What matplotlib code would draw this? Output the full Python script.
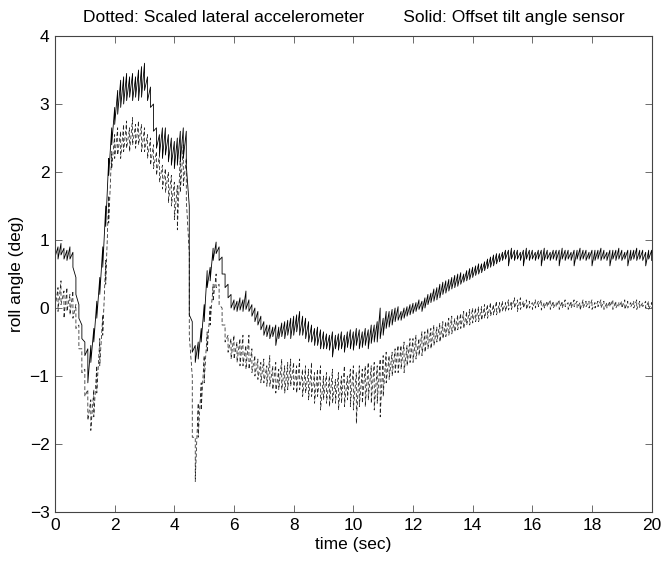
import numpy as np
import matplotlib
matplotlib.use("Agg")
import matplotlib.pyplot as plt

# knot times (0.1 s spacing)
time_sec = [round(0.1 * i, 1) for i in range(201)]

tilt_15_20_hi = [0.82,0.85,0.85,0.88,0.85,0.85,0.82,0.85,0.88,0.85, 0.85,0.82,0.85,0.85,0.88,0.85,0.82,0.85,0.85,0.85,
                 0.88,0.85,0.85,0.82,0.85,0.85,0.88,0.85,0.85,0.82, 0.85,0.85,0.85,0.88,0.85,0.82,0.85,0.85,0.85,0.88,
                 0.85,0.82,0.85,0.85,0.85,0.88,0.85,0.85,0.82,0.85, 0.85]
tilt_15_20_lo = [0.70,0.72,0.62,0.72,0.70,0.72,0.70,0.62,0.72,0.70, 0.72,0.70,0.72,0.62,0.70,0.72,0.70,0.72,0.70,0.62,
                 0.72,0.70,0.72,0.70,0.62,0.72,0.70,0.72,0.70,0.72, 0.62,0.70,0.72,0.70,0.72,0.70,0.62,0.72,0.70,0.72,
                 0.70,0.72,0.62,0.70,0.72,0.70,0.72,0.70,0.62,0.72, 0.70]

# Solid: offset tilt angle sensor (upper / lower envelope of the jitter)
tilt_hi = [
    0.93,0.90,0.95,0.88,0.85,0.90,0.82,0.45,0.05,-0.25,
    -0.50,-0.60,-0.55,-0.30,0.10,0.45,0.90,1.50,2.20,2.65,
    2.95,3.20,3.35,3.40,3.45,3.40,3.45,3.40,3.50,3.55,
    3.60,3.40,3.25,3.00,2.65,2.55,2.65,2.65,2.55,2.50,
    2.45,2.50,2.60,2.65,2.60,1.50,-0.20,-0.55,-0.50,-0.30,
    0.05,0.55,0.60,0.88,0.97,0.90,0.75,0.50,0.35,0.20,
    0.12,0.10,0.15,0.12,0.25,0.12,0.05,0.00,-0.05,-0.12,
    -0.20,-0.25,-0.25,-0.28,-0.25,-0.28,-0.22,-0.20,-0.18,-0.15,
    -0.12,-0.10,-0.05,-0.12,-0.15,-0.20,-0.25,-0.30,-0.28,-0.32,
    -0.35,-0.38,-0.40,-0.35,-0.40,-0.38,-0.35,-0.40,-0.35,-0.32,
    -0.35,-0.30,-0.32,-0.35,-0.30,-0.32,-0.25,-0.25,-0.20,0.00,
    -0.15,-0.05,-0.05,-0.02,0.00,0.02,-0.05,0.00,0.02,0.05,
    0.07,0.08,0.12,0.10,0.15,0.20,0.22,0.28,0.30,0.35,
    0.38,0.40,0.42,0.45,0.48,0.50,0.52,0.50,0.55,0.58,
    0.60,0.62,0.65,0.65,0.68,0.72,0.75,0.78,0.80,0.80,
] + tilt_15_20_hi
tilt_lo = [
    0.75,0.72,0.78,0.72,0.70,0.72,0.60,0.20,-0.15,-0.45,
    -0.70,-1.10,-0.80,-0.50,-0.15,0.20,0.60,1.20,1.95,2.40,
    2.70,2.85,2.95,3.00,3.05,3.10,3.05,3.10,3.05,3.10,
    3.20,3.05,2.95,2.60,2.35,2.25,2.20,2.25,2.15,2.10,
    2.05,2.10,2.15,2.20,2.10,-0.10,-0.65,-0.80,-0.75,-0.50,
    -0.20,0.30,0.40,0.70,0.80,0.70,0.50,0.30,0.15,0.00,
    -0.03,-0.05,-0.03,-0.05,-0.02,-0.05,-0.12,-0.20,-0.25,-0.32,
    -0.40,-0.42,-0.45,-0.42,-0.55,-0.45,-0.42,-0.45,-0.40,-0.45,
    -0.40,-0.35,-0.40,-0.40,-0.45,-0.50,-0.50,-0.55,-0.55,-0.60,
    -0.60,-0.60,-0.62,-0.72,-0.60,-0.62,-0.60,-0.65,-0.58,-0.60,
    -0.62,-0.55,-0.60,-0.58,-0.55,-0.60,-0.52,-0.50,-0.50,-0.45,
    -0.40,-0.30,-0.28,-0.25,-0.20,-0.18,-0.18,-0.15,-0.12,-0.10,
    -0.08,-0.05,-0.02,-0.05,0.00,0.05,0.08,0.10,0.12,0.15,
    0.20,0.22,0.25,0.28,0.30,0.32,0.35,0.38,0.40,0.42,
    0.45,0.48,0.50,0.52,0.55,0.58,0.60,0.62,0.65,0.68,
] + tilt_15_20_lo

# Dotted: scaled lateral accelerometer (upper / lower envelope)
accel_hi = [
    0.35,0.30,0.40,0.25,0.30,0.20,0.25,0.05,-0.25,-0.60,
    -0.90,-1.20,-1.35,-1.20,-0.85,-0.45,-0.10,0.70,1.65,2.30,
    2.55,2.65,2.60,2.70,2.75,2.65,2.80,2.70,2.75,2.70,
    2.65,2.55,2.50,2.40,2.30,2.25,2.10,2.05,2.00,1.95,
    1.85,1.80,2.25,2.40,2.20,0.80,-1.00,-1.90,-1.40,-1.10,
    -0.70,-0.35,0.02,0.35,0.50,0.35,0.00,-0.25,-0.40,-0.45,
    -0.40,-0.50,-0.45,-0.40,-0.55,-0.40,-0.60,-0.70,-0.75,-0.80,
    -0.75,-0.85,-0.70,-0.85,-0.80,-0.90,-0.75,-0.85,-0.80,-0.75,
    -0.80,-0.85,-0.75,-0.90,-0.85,-0.90,-0.80,-0.95,-0.90,-0.85,
    -1.00,-0.95,-1.00,-0.90,-1.05,-0.95,-1.00,-0.85,-1.00,-0.90,
    -0.85,-0.95,-0.85,-0.90,-0.85,-0.80,-0.85,-0.80,-0.85,-0.75,
    -0.70,-0.65,-0.70,-0.65,-0.60,-0.55,-0.55,-0.50,-0.55,-0.45,
    -0.45,-0.40,-0.45,-0.35,-0.35,-0.30,-0.30,-0.25,-0.28,-0.22,
    -0.20,-0.20,-0.15,-0.12,-0.15,-0.10,-0.08,-0.05,-0.05,-0.02,
    0.00,0.00,0.02,0.02,0.05,0.05,0.08,0.05,0.10,0.08,
    0.10,0.08,0.12,0.10,0.15,0.12,0.15,0.10,0.12,0.10,
    0.08,0.12,0.10,0.12,0.08,0.10,0.12,0.10,0.08,0.12,
    0.10,0.12,0.08,0.10,0.12,0.10,0.08,0.12,0.10,0.10,
    0.12,0.08,0.10,0.12,0.10,0.08,0.10,0.12,0.10,0.08,
    0.10,0.12,0.10,0.08,0.10,0.12,0.10,0.08,0.10,0.10,
    0.08,
]
accel_lo = [
    0.00,-0.05,0.05,-0.15,-0.05,-0.10,-0.15,-0.30,-0.60,-0.95,
    -1.30,-1.65,-1.80,-1.60,-1.25,-0.85,-0.40,0.35,1.25,2.05,
    2.20,2.25,2.20,2.30,2.35,2.30,2.40,2.35,2.40,2.30,
    2.30,2.20,2.10,2.05,1.95,1.85,1.75,1.70,1.55,1.50,
    1.30,1.15,1.70,1.80,1.60,-0.40,-1.90,-2.55,-1.90,-1.50,
    -1.10,-0.65,-0.25,0.10,0.30,0.05,-0.25,-0.50,-0.65,-0.75,
    -0.75,-0.80,-0.85,-0.85,-0.90,-0.90,-0.95,-1.00,-1.05,-1.10,
    -1.10,-1.15,-1.15,-1.20,-1.25,-1.20,-1.20,-1.25,-1.20,-1.15,
    -1.20,-1.25,-1.20,-1.30,-1.25,-1.35,-1.30,-1.40,-1.30,-1.50,
    -1.35,-1.40,-1.45,-1.40,-1.40,-1.50,-1.40,-1.45,-1.35,-1.45,
    -1.50,-1.70,-1.45,-1.40,-1.45,-1.35,-1.40,-1.50,-1.40,-1.60,
    -1.30,-1.10,-1.05,-1.00,-0.95,-0.95,-0.90,-0.95,-0.85,-0.80,
    -0.80,-0.75,-0.70,-0.70,-0.65,-0.60,-0.60,-0.55,-0.50,-0.50,
    -0.45,-0.42,-0.40,-0.38,-0.35,-0.32,-0.30,-0.30,-0.25,-0.25,
    -0.22,-0.20,-0.20,-0.18,-0.15,-0.15,-0.12,-0.10,-0.10,-0.08,
    -0.05,-0.05,-0.03,-0.02,0.00,-0.05,-0.02,0.00,-0.02,0.00,
    -0.02,0.00,0.02,-0.03,0.00,0.02,-0.02,0.00,0.02,-0.02,
    0.00,0.02,-0.02,0.00,0.02,0.00,-0.03,0.00,0.02,0.00,
    -0.02,0.00,0.02,0.00,-0.02,0.00,0.02,-0.02,0.00,0.02,
    0.00,-0.02,0.00,0.02,0.00,-0.02,0.00,0.02,0.00,-0.02,
    0.00,
]

x_ticks = [0, 2, 4, 6, 8, 10, 12, 14, 16, 18, 20]
y_ticks = [-3, -2, -1, 0, 1, 2, 3, 4]
title_text = "Dotted: Scaled lateral accelerometer        Solid: Offset tilt angle sensor"
x_label = "time (sec)"
y_label = "roll angle (deg)"


def zigzag(t, hi, lo):
    """Vertical stroke from upper to lower envelope at each knot."""
    t = np.asarray(t, float)
    xs = np.repeat(t, 2)
    ys = np.empty(2 * len(t))
    ys[0::2] = hi
    ys[1::2] = lo
    return xs, ys


plt.rcParams['font.family'] = ['Liberation Sans', 'DejaVu Sans']
fig = plt.figure(figsize=(6.67, 5.61), dpi=100)
ax = fig.add_axes([0.0825, 0.0873, 0.8945, 0.8485])

xs, ys = zigzag(time_sec, accel_hi, accel_lo)
ax.plot(xs, ys, color='#222222', lw=0.55, linestyle=(0, (5, 3)))
xs, ys = zigzag(time_sec, tilt_hi, tilt_lo)
ax.plot(xs, ys, color='black', lw=0.6)

ax.set_xlim(0, 20)
ax.set_ylim(-3, 4)
ax.set_xticks(x_ticks)
ax.set_yticks(y_ticks)
ax.tick_params(direction='in', top=True, right=True, length=5, width=0.6,
               color='#555555', labelsize=12.5, pad=4)
for s in ax.spines.values():
    s.set_linewidth(0.8)
    s.set_color('#444444')
ax.set_xlabel(x_label, fontsize=12.5, labelpad=3)
ax.set_ylabel(y_label, fontsize=12.5, labelpad=4)
ax.set_title(title_text, fontsize=12.5, pad=10)

fig.savefig("out.png", dpi=100)
